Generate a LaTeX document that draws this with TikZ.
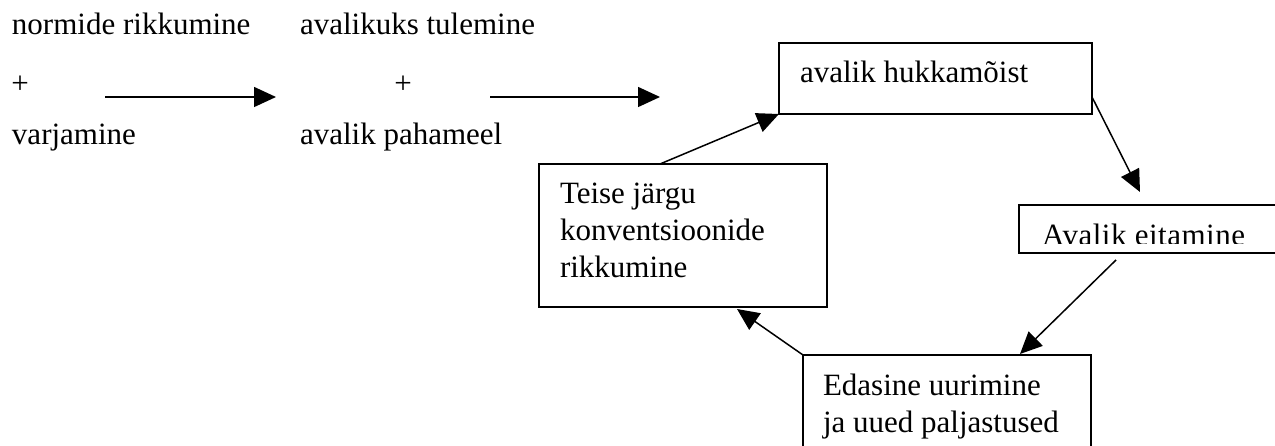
\documentclass[tikz,border=0pt]{standalone}
\usepackage{fontspec}
\setmainfont{Liberation Serif}
\usetikzlibrary{arrows.meta,calc}
\begin{document}
\begin{tikzpicture}[x=1pt,y=-1pt,
  txt/.style={anchor=base west,inner sep=0pt,outer sep=0pt,font=\fontsize{31}{37}\selectfont,align=left},
  box/.style={draw,line width=2pt,rectangle,inner sep=0pt,outer sep=0pt,anchor=north west},
  conn/.style={line width=1.5pt,-{Triangle[length=22pt,width=20pt]}}]
\useasboundingbox (0,0) rectangle (1275,446);
\clip (0,0) rectangle (1275,446);
% left text part
\node[txt] (n1) at (12,35) {normide rikkumine};
\node[inner sep=0pt,font=\fontsize{31}{37}\selectfont] (p1) at (20,85) {+};
\node[txt] (n2) at (12,145) {varjamine};
\node[txt] (m1) at (300,35) {avalikuks tulemine};
\node[inner sep=0pt,font=\fontsize{31}{37}\selectfont] (p2) at (403,85) {+};
\node[txt] (m2) at (300,145) {avalik pahameel};
\coordinate (a1s) at (105,97);
\coordinate (a1e) at (276,97);
\coordinate (a2s) at (490,97);
\coordinate (a2e) at (660,97);
\draw[conn] (a1s) -- (a1e);
\draw[conn] (a2s) -- (a2e);
% boxes
\node[box,minimum width=313pt,minimum height=71pt] (hukk) at (779,43) {};
\node[txt] (hukkt) at (800,83) {avalik hukkamõist};
\node[box,minimum width=288pt,minimum height=143pt] (teise) at (539,164) {};
\node[txt] (teiset) at (560,278) {Teise järgu\\konventsioonide\\rikkumine};
\node[box,minimum width=280pt,minimum height=48pt] (eit) at (1019,205) {};
\begin{scope}
\clip (1019,206) rectangle (1275,244);
\node[txt,font=\fontsize{31}{37}\selectfont\addfontfeature{LetterSpace=1.6}] (eitt) at (1042,246) {Avalik eitamine};
\end{scope}
\node[box,minimum width=288pt,minimum height=130pt] (edas) at (803,355) {};
\node[txt] (edast) at (823,432) {Edasine uurimine\\ja uued paljastused};
% cycle connectors
\draw[conn] ($(teise.north west)+(121,0)$) -- (hukk.south west);
\draw[conn] ($(hukk.south east)+(0,-17)$) -- ($(eit.north west)+(121,-13)$);
\draw[conn] ($(eit.south west)+(97,7)$) -- ($(edas.north west)+(217,-1)$);
\draw[conn] (edas.north west) -- ($(teise.south west)+(198,2)$);
\end{tikzpicture}
\end{document}
